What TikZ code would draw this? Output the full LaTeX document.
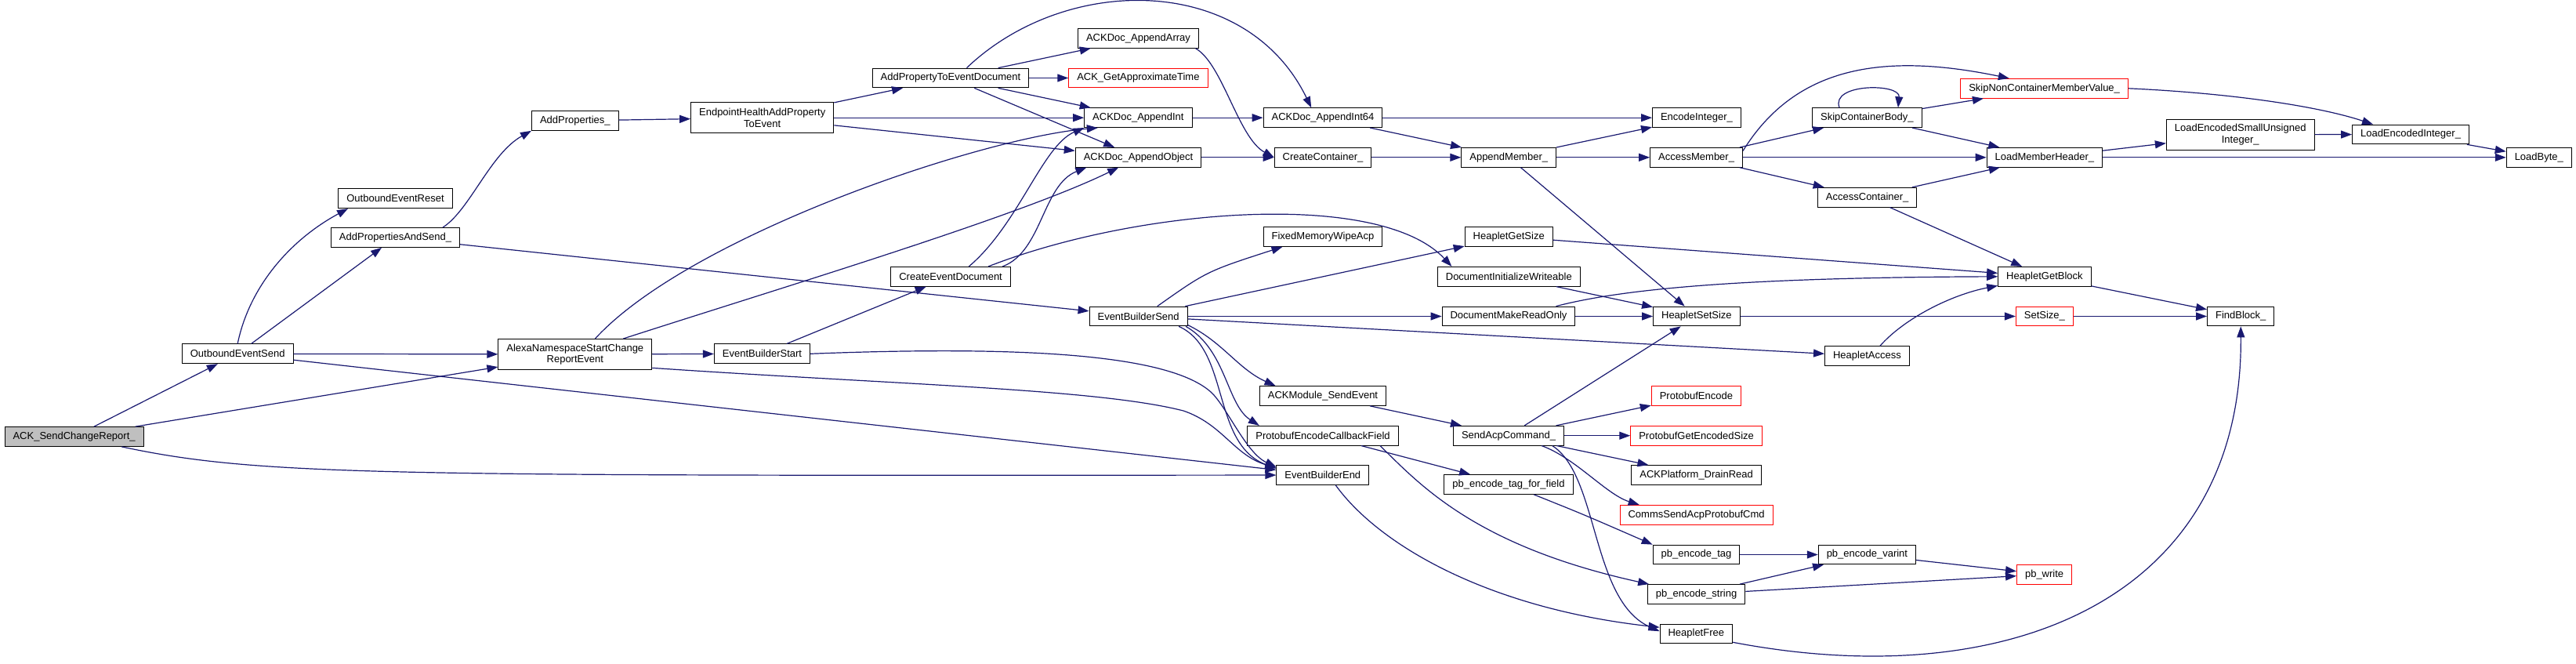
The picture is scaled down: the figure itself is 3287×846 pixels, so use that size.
\documentclass[tikz,border=0pt]{standalone}
\usepackage{fontspec}
\setmainfont{Liberation Sans}
\usepackage{xcolor}
\usepackage{tikz}
\usetikzlibrary{arrows.meta}
\definecolor{edgeblue}{HTML}{191970}
\definecolor{rootgrey}{HTML}{BFBFBF}
\tikzset{
  fn/.style      ={draw=black,fill=white,line width=1pt,align=center,
                   inner xsep=10.5pt,inner ysep=3pt,minimum height=24.7pt},
  fnext/.style   ={fn,draw=red},
  fnroot/.style  ={fn,fill=rootgrey},
  twoline/.style ={minimum height=39pt},
  call/.style    ={-{Triangle[length=14pt,width=10pt]},draw=edgeblue,line width=1.2pt},
}

\begin{document}
\begin{tikzpicture}[x=1pt,y=1pt,font=\fontsize{13}{14.5}\selectfont]
\useasboundingbox (0,0) rectangle (3287,846);

% --- callers ---------------------------------------------------------------
\node[fnroot] (sendrep) at (94.6,289)   {ACK\_SendChangeReport\_};
\node[fn] (oes)     at (303.2,394.7)    {OutboundEventSend};
\node[fn] (oer)     at (504.5,592.7)    {OutboundEventReset};
\node[fn] (apas)    at (504.5,543)      {AddPropertiesAndSend\_};
\node[fn,twoline] (alexa) at (733.8,394) {AlexaNamespaceStartChange\\ReportEvent};
\node[fn] (addprop) at (733.8,692)      {AddProperties\_};
\node[fn,twoline] (ehap) at (972.7,695.8) {EndpointHealthAddProperty\\ToEvent};
\node[fn] (ebstart) at (972.5,394.7)    {EventBuilderStart};
\node[fn] (apted)   at (1212.9,746.5)   {AddPropertyToEventDocument};
\node[fn] (ced)     at (1213.1,493.2)   {CreateEventDocument};

% --- document / event builder ----------------------------------------------
\node[fn]    (appendarray) at (1452.5,797.2) {ACKDoc\_AppendArray};
\node[fnext] (getapprox)   at (1452.4,746.5) {ACK\_GetApproximateTime};
\node[fn]    (appendint)   at (1452.4,695.8) {ACKDoc\_AppendInt};
\node[fn]    (appendobj)   at (1452.5,645.2) {ACKDoc\_AppendObject};
\node[fn]    (ebsend)      at (1452.6,442.5) {EventBuilderSend};
\node[fn] (appendint64) at (1688,695.8) {ACKDoc\_AppendInt64};
\node[fn] (createcont)  at (1688,645.2) {CreateContainer\_};
\node[fn] (fmwipe)      at (1688,544)   {FixedMemoryWipeAcp};
\node[fn] (acksend)     at (1688,341)   {ACKModule\_SendEvent};
\node[fn] (pecf)        at (1688,290.3) {ProtobufEncodeCallbackField};
\node[fn] (ebend)       at (1687.8,240) {EventBuilderEnd};

% --- members, heaplet, protobuf --------------------------------------------
\node[fn] (appendmember) at (1925.2,645.2) {AppendMember\_};
\node[fn] (hgetsize)     at (1925.2,544)   {HeapletGetSize};
\node[fn] (diw)          at (1925.3,493.2) {DocumentInitializeWriteable};
\node[fn] (dmro)         at (1925,442.5)   {DocumentMakeReadOnly};
\node[fn] (sendacp)      at (1925,290.3)   {SendAcpCommand\_};
\node[fn] (tagforfield)  at (1925,228)     {pb\_encode\_tag\_for\_field};
\node[fn]    (encint)       at (2164.9,695.8) {EncodeInteger\_};
\node[fn]    (accessmember) at (2164.6,645.2) {AccessMember\_};
\node[fn]    (hsetsize)     at (2164.9,442.5) {HeapletSetSize};
\node[fnext] (pbencode)     at (2164.4,341)   {ProtobufEncode};
\node[fnext] (getencsize)   at (2164.6,290.3) {ProtobufGetEncodedSize};
\node[fn]    (drainread)    at (2164.6,240)   {ACKPlatform\_DrainRead};
\node[fnext] (comms)        at (2164.6,189.3) {CommsSendAcpProtobufCmd};
\node[fn]    (pbtag)        at (2164.5,138.5) {pb\_encode\_tag};
\node[fn]    (pbstring)     at (2164.6,88)    {pb\_encode\_string};
\node[fn]    (hfree)        at (2164.3,37.5)  {HeapletFree};
\node[fn] (skipbody)   at (2382.4,695.8) {SkipContainerBody\_};
\node[fn] (accesscont) at (2382.7,594.3) {AccessContainer\_};
\node[fn] (haccess)    at (2382.4,391.8) {HeapletAccess};
\node[fn] (varint)     at (2382.4,138.5) {pb\_encode\_varint};
\node[fnext] (skipnon)   at (2608.6,733.2) {SkipNonContainerMemberValue\_};
\node[fn]    (loadmh)    at (2608.9,645.2) {LoadMemberHeader\_};
\node[fn]    (hgetblock) at (2608.9,493.2) {HeapletGetBlock};
\node[fnext] (setsize)   at (2608.9,442.5) {SetSize\_};
\node[fnext] (pbwrite)   at (2608.6,113.3) {pb\_write};
\node[fn,twoline] (lesui) at (2858.7,674.3) {LoadEncodedSmallUnsigned\\Integer\_};
\node[fn] (findblock) at (2859.2,442.5) {FindBlock\_};
\node[fn] (lei)       at (3076,674.5)   {LoadEncodedInteger\_};
\node[fn] (loadbyte)  at (3239.8,645.2) {LoadByte\_};

% --- calls -----------------------------------------------------------------
\draw[call] (sendrep) -- (oes);
\draw[call] (sendrep) -- (alexa);
\draw[call] (sendrep) .. controls (330,239) and (480,239) .. (ebend);

\draw[call] (oes.north) .. controls (318,480) and (370,540) .. (oer.192);
\draw[call] (oes) -- (apas);
\draw[call] (oes) -- (alexa);
\draw[call] (oes) -- (ebend);

\draw[call] (apas.12) .. controls (599.5,578) and (625.5,650) .. (addprop.south west);
\draw[call] (apas) -- (ebsend);
\draw[call] (addprop) -- (ehap);

\draw[call] (ehap) -- (apted);
\draw[call] (ehap) -- (appendint);
\draw[call] (ehap) -- (appendobj);

\draw[call] (apted) -- (appendarray);
\draw[call] (apted) -- (getapprox);
\draw[call] (apted) -- (appendint);
\draw[call] (apted) -- (appendobj);
\draw[call] (apted.32) .. controls (1360,880) and (1590,880) .. (appendint64.139);

\draw[call] (appendarray.-10) .. controls (1560,765) and (1580,670) .. (createcont.west);
\draw[call] (appendint) -- (appendint64);
\draw[call] (appendobj) -- (createcont);

\draw[call] (alexa.38) .. controls (880,545) and (1250,670) .. (appendint.194);
\draw[call] (alexa.18) .. controls (1000,480) and (1300,570) .. (appendobj.207);
\draw[call] (alexa) -- (ebstart);
\draw[call] (alexa.-10) .. controls (1150,355) and (1400,350) .. (1510,322)
                        .. controls (1560,305) and (1575,265) .. (ebend.171);

\draw[call] (ebstart) -- (ced);
\draw[call] (ebstart.east) .. controls (1300,405) and (1490,395) .. (1545,346)
                           .. controls (1565,328) and (1590,268) .. (ebend.170);

\draw[call] (ced.29) .. controls (1300,560) and (1330,660) .. (appendint.south west);
\draw[call] (ced.11) .. controls (1330,525) and (1330,610) .. (appendobj.191);
\draw[call] (ced.15) .. controls (1450,580) and (1760,605) .. (diw.170);

\draw[call] (ebsend.28) .. controls (1540,500) .. (fmwipe.194);
\draw[call] (ebsend) -- (hgetsize);
\draw[call] (ebsend) -- (dmro);
\draw[call] (ebsend) -- (haccess);
\draw[call] (ebsend.-10) .. controls (1560,410) and (1580,375) .. (acksend.168);
\draw[call] (ebsend.-12) .. controls (1565,400) and (1565,330) .. (pecf.171);
\draw[call] (ebsend.-14) .. controls (1570,400) and (1545,280) .. (ebend.172);

\draw[call] (appendint64) -- (encint);
\draw[call] (appendint64) -- (appendmember);
\draw[call] (createcont) -- (appendmember);
\draw[call] (acksend) -- (sendacp);
\draw[call] (pecf) -- (tagforfield);
\draw[call] (pecf.-10) .. controls (1810,230) and (1880,150) .. (pbstring.168);
\draw[call] (ebend.-38) .. controls (1760,150) and (1900,70) .. (hfree.170);

\draw[call] (appendmember) -- (encint);
\draw[call] (appendmember) -- (accessmember);
\draw[call] (appendmember) -- (hsetsize);
\draw[call] (hgetsize) -- (hgetblock);
\draw[call] (diw) -- (hsetsize);
\draw[call] (dmro) -- (hsetsize);
\draw[call] (dmro.12) .. controls (2080,480) and (2250,492) .. (hgetblock.west);

\draw[call] (sendacp) -- (hsetsize);
\draw[call] (sendacp) -- (pbencode);
\draw[call] (sendacp) -- (getencsize);
\draw[call] (sendacp) -- (drainread);
\draw[call] (sendacp.-17) .. controls (2010,262) and (2050,215) .. (comms.170);
\draw[call] (sendacp.-13) .. controls (2040,240) and (2030,80) .. (hfree.176);

\draw[call] (tagforfield) .. controls (2020,190) .. (pbtag.north west);
\draw[call] (pbtag) -- (varint);
\draw[call] (pbstring) -- (varint);
\draw[call] (pbstring) -- (pbwrite);
\draw[call] (varint) -- (pbwrite);
\draw[call] (hfree.-13) .. controls (2560,-40) and (2862,80) .. (findblock.south);

\draw[call] (accessmember) -- (skipbody);
\draw[call] (accessmember) -- (loadmh);
\draw[call] (accessmember) -- (accesscont);
\draw[call] (accessmember.8) .. controls (2290,760) and (2400,780) .. (skipnon.164);

\draw[call] (skipbody.160) .. controls (2335,740) and (2425,740) .. (skipbody.18);
\draw[call] (skipbody) -- (skipnon);
\draw[call] (skipbody) -- (loadmh);
\draw[call] (accesscont) -- (loadmh);
\draw[call] (accesscont) -- (hgetblock);
\draw[call] (haccess.38) .. controls (2430,440) and (2490,470) .. (hgetblock.191);

\draw[call] (hsetsize) -- (setsize);
\draw[call] (hgetblock) -- (findblock);
\draw[call] (setsize) -- (findblock);

\draw[call] (loadmh) -- (lesui);
\draw[call] (loadmh) -- (loadbyte);
\draw[call] (skipnon.east) .. controls (2850,727) and (2960,710) .. (lei.165);
\draw[call] (lesui) -- (lei);
\draw[call] (lei) -- (loadbyte);

\end{tikzpicture}
\end{document}
